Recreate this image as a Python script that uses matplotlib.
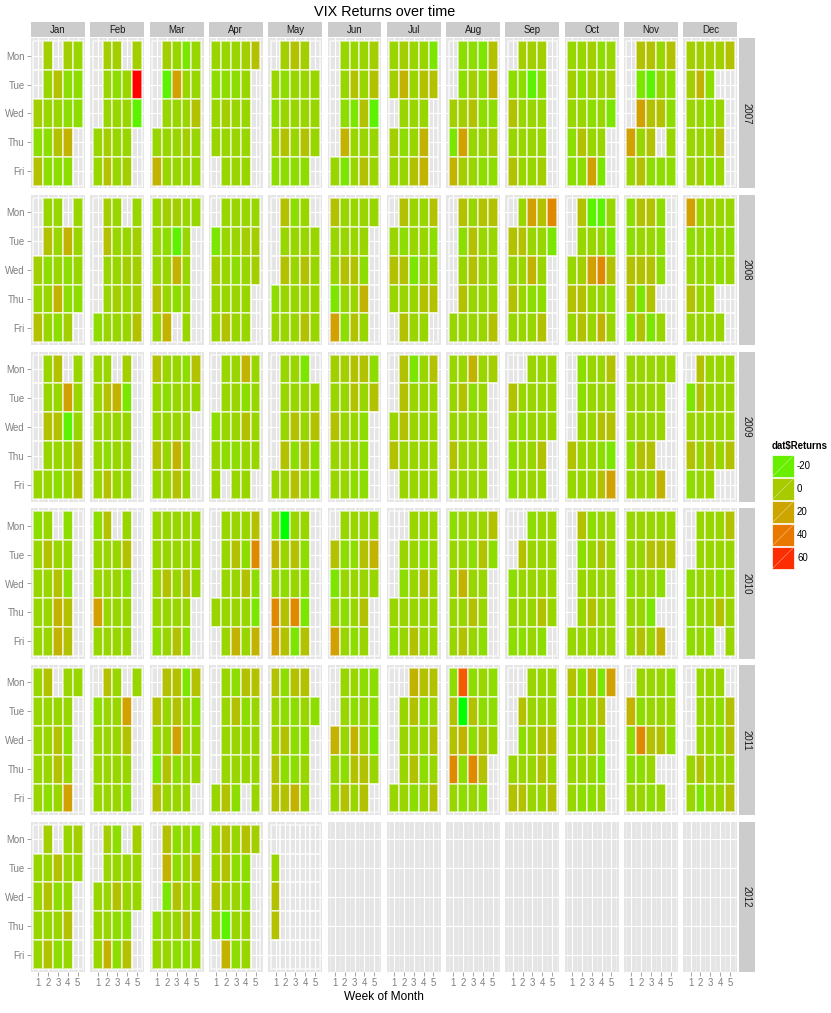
import numpy as np
import matplotlib
matplotlib.use("Agg")
import matplotlib.pyplot as plt
from matplotlib.colors import ListedColormap, Normalize
from matplotlib.patches import Rectangle

plt.rcParams['font.family'] = ['Liberation Sans', 'DejaVu Sans']

months = ['Jan', 'Feb', 'Mar', 'Apr', 'May', 'Jun',
          'Jul', 'Aug', 'Sep', 'Oct', 'Nov', 'Dec']
weekdays = ['Mon', 'Tue', 'Wed', 'Thu', 'Fri']
years = [2007, 2008, 2009, 2010, 2011, 2012]
legend_breaks = [-20, 0, 20, 40, 60]

# approximate daily VIX return (%) for each tile shade seen in the chart
shade_returns = {'Z': -30, 'G': -22, 'g': -15, 'l': -10, 'y': -6, 'o': -2,
                 'O': 5, 'b': 13, 'B': 22, 'r': 33, 'R': 50, 'X': 64}

# one string per month: rows Mon..Fri, 5 chars = week of month 1..5, '.' = no trading day
ret_2007 = [
    ".o.oy .yOll oyyll llOb. Olll.",
    ".oo.o .ylyX .yyyG yoyy. yOyo.",
    ".oygy .GByy .yyyO yyyoy byyyy",
    "yyyoO llly. yoyy. yyyy. .yyy.",
    ".oOo. ylyyy lyyyy yOyOy llll.",
    ".yyyo .yOyO .lgOG .byyy ygyOy",
    "yoyyg obyOO .yyy. olyb. yyOb.",
    ".llgO .lolb ooOll gByyo boyll",
    ".ooo. llGl. Oyyy. yyyy. Oyyo.",
    "yyoly oloyo yylyg lOyy. llBg.",
    ".OOyO .gGyl .BOOl ByO.y yOlll",
    "ooooO obl.. yyly. yyyO. yoly.",
]
ret_2008 = [
    ".yy.y .Oyby olyly yybll Oylo.",
    ".oy.y .Oyyo .yyoo .yoyo lyyyO",
    "yooyy ylGy. yyby. Oyly. yb.y.",
    ".yyyy gyyoo oylyo yyyy. yOyy.",
    ".Oly. .yyyy .OyOy lyyyy yyyOy",
    "Oyyyy yyyy. yOOl. gyyb. BlOy.",
    ".OyyO ylyyl OOgyy yyyOO .Oyy.",
    ".OyOO .lOyy .yOyy .Oyyy yyyyO",
    ".yBOr OOyyg yyby. Oyll. yyyO.",
    ".OGGy .yyyg yoBrO OOyyl yOyby",
    "lOOl. lyyl. OOOl. OgO.. gOgy.",
    "Byoyy lylyl ylyly Oyy.. yyyy.",
]
ret_2009 = [
    ".yO.y .yyBy .OOGy .yyyO yylyO",
    "yy.o. yObg. yyyy. ylyy. yOyy.",
    "OyylO ylyyy yyyy. Oyby. yyOy.",
    ".yyby .yyly lyyOy yllyy y.yy.",
    ".yyg. .yyyy .yOyO .OlOl yyOyl",
    "ooOOl yyOyO Oyyl. yyyl. yyll.",
    ".OgyO .Oyyy yOyyy Oyyyy .yyyy",
    "yybyo yOly. yyyy. Oyyy. yyyy.",
    "..yyy Oyyyy ylyyy lyyO. lyyy.",
    ".lyyO .lyyy .yyOO Oyylg yyyOB",
    "yyyyy yyyy. yyyy. lOO.. yyyb.",
    ".Oyyy gOyyy yyyyy OyOyO lyy..",
]
ret_2010 = [
    "ly.l. yOyy. yyOl. yybO. yybO.",
    "lO.y. yyyO. yyyl. Byyy. yyyy.",
    "yyyyy yyyyy yOyOy yyyy. lyOl.",
    ".yyyO .yOlr .yyOl yyyyg .ybyb",
    "lZyy. byOl. ylyl. rOrg. BOgO.",
    ".yyyy OllOb gyyyy ylyO. Byly.",
    "..yyy .yyly .lyOy yyyyy lyOyy",
    "lyyyO yylOl ybyy. yyOy. yOyl.",
    "..lyy .Oyyy lyyyy yyyOy llyl.",
    ".Olyy .lyOy .yyyy .yOyy yyyyy",
    "yyyyy yyOOO lyyl. yyg.. yOyb.",
    ".yyyO .yyyy lyyly lyyOy lyl.y",
]
ret_2011 = [
    "yO.yy yyyy. yyOl. yyOy. ylyB.",
    ".Oy.y lyyB. yyyO. yyyy. yyyl.",
    ".OOgO OyOyl yyByy gOlyy Oyyy.",
    ".ylOO .yOly .yyyy .yyyy yOl.y",
    "OlOO. yllyl yOll. Olly. OOby.",
    ".yyll .ylyl bybyg ylOOy yOyO.",
    "..bOO .yOly .yyyO .yOly yylyO",
    "lRlyl OZOll OblOy rlrO. ylyl.",
    "..yyy .Oyyy .lyOO yyyOy OOyyO",
    "OlbgB lyyO. yyOl. yyyg. ylly.",
    ".yyyl blyyy lrOOl lly.. yyly.",
    ".yyy. .yylO .yylO yOyyy ygyyO",
]
ret_2012 = [
    ".o.yo yyOyy yOly. yyyO. yOly.",
    ".ol.o .yyyy yyOyy yyll. yblO.",
    ".Olyl .blyO .gOyy lyyOy yylly",
    "yOyOo yOll. Oyyl. yGyy. .bly.",
    "..... y.... O.... O.... .....",
    None, None, None, None, None, None, None,
]
ret_by_year = dict(zip(years, [ret_2007, ret_2008, ret_2009,
                               ret_2010, ret_2011, ret_2012]))


def srgb_to_lab(rgb):
    c = np.asarray(rgb, float)
    lin = np.where(c <= 0.04045, c / 12.92, ((c + 0.055) / 1.055) ** 2.4)
    m = np.array([[0.4124, 0.3576, 0.1805],
                  [0.2126, 0.7152, 0.0722],
                  [0.0193, 0.1192, 0.9505]])
    xyz = m @ lin / np.array([0.95047, 1.0, 1.08883])
    f = np.where(xyz > 0.008856, np.cbrt(xyz), 7.787 * xyz + 16 / 116)
    return np.array([116 * f[1] - 16, 500 * (f[0] - f[1]), 200 * (f[1] - f[2])])


def lab_to_srgb(lab):
    L, a, b = lab
    fy = (L + 16) / 116
    f = np.array([fy + a / 500, fy, fy - b / 200])
    xyz = np.where(f ** 3 > 0.008856, f ** 3, (f - 16 / 116) / 7.787)
    xyz = xyz * np.array([0.95047, 1.0, 1.08883])
    m = np.array([[3.2406, -1.5372, -0.4986],
                  [-0.9689, 1.8758, 0.0415],
                  [0.0557, -0.2040, 1.0570]])
    lin = np.clip(m @ xyz, 0, 1)
    c = np.where(lin <= 0.0031308, 12.92 * lin, 1.055 * lin ** (1 / 2.4) - 0.055)
    return np.clip(c, 0, 1)


# green -> red gradient interpolated in Lab space (like scale_fill_gradient)
low, high = srgb_to_lab([0, 1, 0]), srgb_to_lab([1, 0, 0])
cmap = ListedColormap([lab_to_srgb(low + t * (high - low))
                       for t in np.linspace(0, 1, 256)])

all_vals = [shade_returns[ch] for grids in ret_by_year.values()
            for g in grids if g for ch in g if ch in shade_returns]
norm = Normalize(min(all_vals), max(all_vals))

W, H = 831, 1013
fig = plt.figure(figsize=(W / 100, H / 100), dpi=100)


def rect(left, top, w, h):
    return [left / W, 1 - (top + h) / H, w / W, h / H]


PX0, PY0, PW, PH = 31, 38.3, 54, 150.2
DX, DY = 59.3, 156.7
axis_grey = '#7F7F7F'
strip_grey = '#CCCCCC'
tile_edge = (1, 1, 1, 0.55)

for r, year in enumerate(years):
    for c, month in enumerate(months):
        ax = fig.add_axes(rect(PX0 + c * DX, PY0 + r * DY, PW, PH))
        ax.set_facecolor('#E5E5E5')
        ax.set_xlim(0.25, 5.75)
        ax.set_ylim(5.6, 0.4)
        ax.set_xticks(range(1, 6))
        ax.set_xticks(np.arange(0.5, 6), minor=True)
        ax.set_yticks(range(1, 6))
        ax.set_axisbelow(True)
        ax.grid(which='major', color='white', linewidth=0.8)
        ax.grid(which='minor', axis='x', color='#F2F2F2', linewidth=0.4)
        for s in ax.spines.values():
            s.set_visible(False)
        ax.tick_params(which='minor', length=0)
        ax.tick_params(which='major', length=3, width=0.5, color=axis_grey,
                       labelcolor=axis_grey, labelsize=6.9, pad=1.5)

        grid = ret_by_year[year][c]
        if grid:
            z = np.array([[shade_returns.get(ch, np.nan) for ch in row]
                          for row in grid.split()])
            ax.pcolormesh(np.arange(0.5, 6), np.arange(0.5, 6),
                          np.ma.masked_invalid(z), cmap=cmap, norm=norm,
                          edgecolors=tile_edge, linewidth=0.3)

        if c == 0:
            ax.set_yticklabels(weekdays)
        else:
            ax.tick_params(axis='y', length=0, labelleft=False)
        if r == len(years) - 1:
            ax.set_xticklabels([str(i) for i in range(1, 6)])
        else:
            ax.tick_params(axis='x', length=0, labelbottom=False)

        if r == 0:
            sax = fig.add_axes(rect(PX0 + c * DX, 21.7, PW, 15.8))
            sax.set_facecolor(strip_grey)
            sax.set_xticks([]); sax.set_yticks([])
            for s in sax.spines.values():
                s.set_visible(False)
            sax.text(0.5, 0.5, month, ha='center', va='center', fontsize=6.9,
                     color='#1A1A1A', transform=sax.transAxes)

    yax = fig.add_axes(rect(739, PY0 + r * DY, 16, PH))
    yax.set_facecolor(strip_grey)
    yax.set_xticks([]); yax.set_yticks([])
    for s in yax.spines.values():
        s.set_visible(False)
    yax.text(0.5, 0.5, str(year), ha='center', va='center', rotation=-90,
             fontsize=6.9, color='#1A1A1A', transform=yax.transAxes)

panel_mid = (PX0 + 11 * DX + PW + PX0) / 2
fig.text(panel_mid / W, 1 - 12 / H, 'VIX Returns over time', ha='center',
         va='center', fontsize=10.4)
fig.text(panel_mid / W, 1 - 997 / H, 'Week of Month', ha='center',
         va='center', fontsize=8.6)

# legend keys
fig.text(772 / W, 1 - 446 / H, 'dat$Returns', ha='left', va='center',
         fontsize=6.9, fontweight='bold')
lax = fig.add_axes(rect(772, 455, 60, 23 * len(legend_breaks)))
lax.set_xlim(0, 60)
lax.set_ylim(23 * len(legend_breaks), 0)
lax.axis('off')
for i, v in enumerate(legend_breaks):
    y0 = i * 23
    lax.add_patch(Rectangle((0, y0), 22, 22, facecolor=cmap(norm(v)),
                            edgecolor='white', linewidth=0.5))
    lax.plot([0.5, 21.5], [y0 + 21.5, y0 + 0.5], color='white', alpha=0.45,
             linewidth=0.5)
    lax.text(25, y0 + 11, str(v), ha='left', va='center', fontsize=6.9)

fig.savefig('out.png', dpi=100)
